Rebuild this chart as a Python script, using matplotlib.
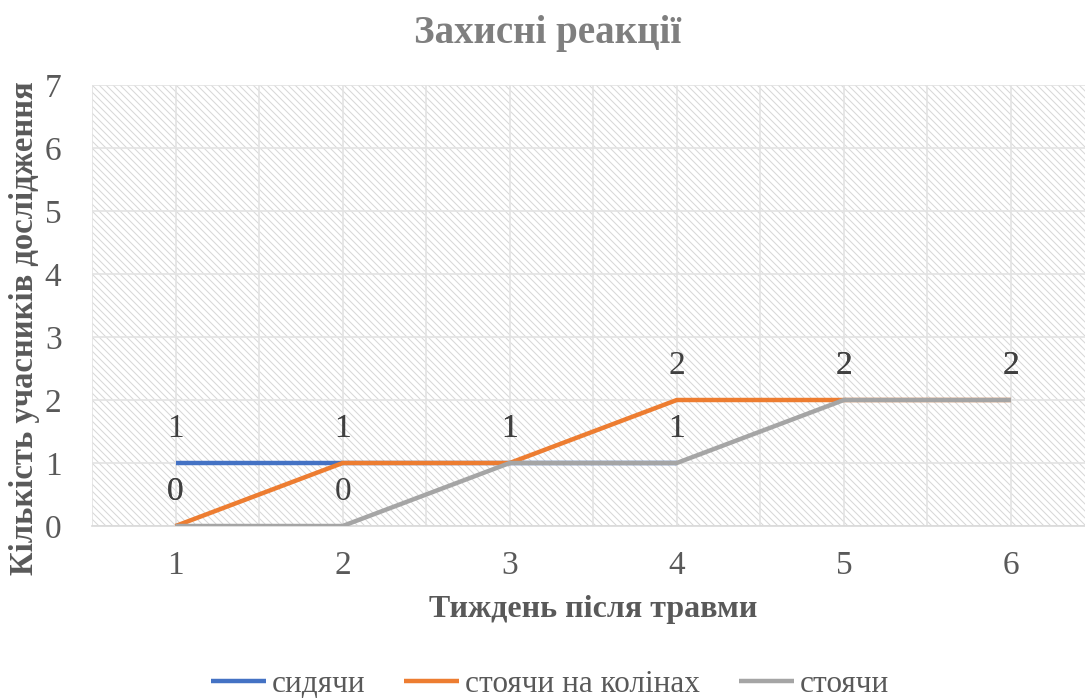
import matplotlib
matplotlib.use("Agg")
import matplotlib.pyplot as plt
from matplotlib.collections import LineCollection
import numpy as np

# Data
weeks = ["1", "2", "3", "4", "5", "6"]
sitting = [1, 1, 1, 1, np.nan, np.nan]
kneeling = [0, 1, 1, 2, 2, 2]
standing = [0, 0, 1, 1, 2, 2]
series_names = ["сидячи", "стоячи на колінах", "стоячи"]
series_colors = ["#4472C4", "#ED7D31", "#A5A5A5"]

title = "Захисні реакції"
xlabel = "Тиждень після травми"
ylabel = "Кількість учасників дослідження"

plt.rcParams["font.family"] = ["Liberation Serif", "DejaVu Serif"]

W, H = 1085, 700
fig = plt.figure(figsize=(W / 100, H / 100), dpi=100)
left, right, top, bottom = 92, 1094.5, 85, 526
aw, ah = right - left, bottom - top
ax = fig.add_axes([left / W, 1 - bottom / H, aw / W, ah / H])

# diagonal stripe texture on the plot background
step = 7.0 / aw
slant = ah / aw
starts = np.arange(-slant, 1.0 + step, step)
segs = [[(u, 1.0), (u + slant, 0.0)] for u in starts]
stripes = LineCollection(segs, colors="#d8d8d8", linewidths=0.75,
                         transform=ax.transAxes, zorder=0, clip_on=True)
ax.add_collection(stripes, autolim=False)
stripes.set_clip_path(ax.patch)

x = np.arange(len(weeks))
for vals, name, col in zip([sitting, kneeling, standing], series_names, series_colors):
    ax.plot(x, vals, color=col, lw=3.2, label=name, solid_capstyle="butt", zorder=3)
    for xi, v in zip(x, vals):
        if np.isnan(v):
            continue
        ax.annotate(f"{int(v)}", (xi, v), xytext=(0, 25), textcoords="offset points",
                    ha="center", va="center", fontsize=24, color="#404040", zorder=4)

ax.set_xlim(-0.5, len(weeks) - 0.5)
ax.set_ylim(0, 7)
ax.set_xticks(x)
ax.set_xticklabels(weeks)
ax.set_xticks(np.arange(-0.5, len(weeks)), minor=True)
ax.set_yticks(np.arange(0, 8, 1))

ax.grid(True, which="major", color="#e3e3e3", lw=1.2, zorder=1)
ax.grid(True, which="minor", axis="x", color="#e3e3e3", lw=1.2, zorder=1)
ax.set_axisbelow(True)

ax.tick_params(axis="both", which="both", length=0, labelsize=24, colors="#595959")
ax.tick_params(axis="x", pad=18)
ax.tick_params(axis="y", pad=22)

for s in ["left", "right", "top"]:
    ax.spines[s].set_visible(False)
ax.spines["bottom"].set_color("#d9d9d9")
ax.spines["bottom"].set_linewidth(1.2)

fig.text(548 / W, 1 - 33 / H, title, ha="center", va="center", fontsize=28,
         fontweight="bold", color="#7f7f7f")
fig.text(593 / W, 1 - 610 / H, xlabel, ha="center", va="center", fontsize=23,
         fontweight="bold", color="#595959")
fig.text(25 / W, 1 - 328 / H, ylabel, ha="center", va="center", rotation=90,
         fontsize=23.5, fontweight="bold", color="#595959")

fig.legend(loc="center", bbox_to_anchor=(550 / W, 1 - 684 / H), ncol=3, frameon=False,
           fontsize=22.5, labelcolor="#595959", handlelength=1.76, handletextpad=0.19,
           columnspacing=1.25)

fig.savefig("out.png", dpi=100)
